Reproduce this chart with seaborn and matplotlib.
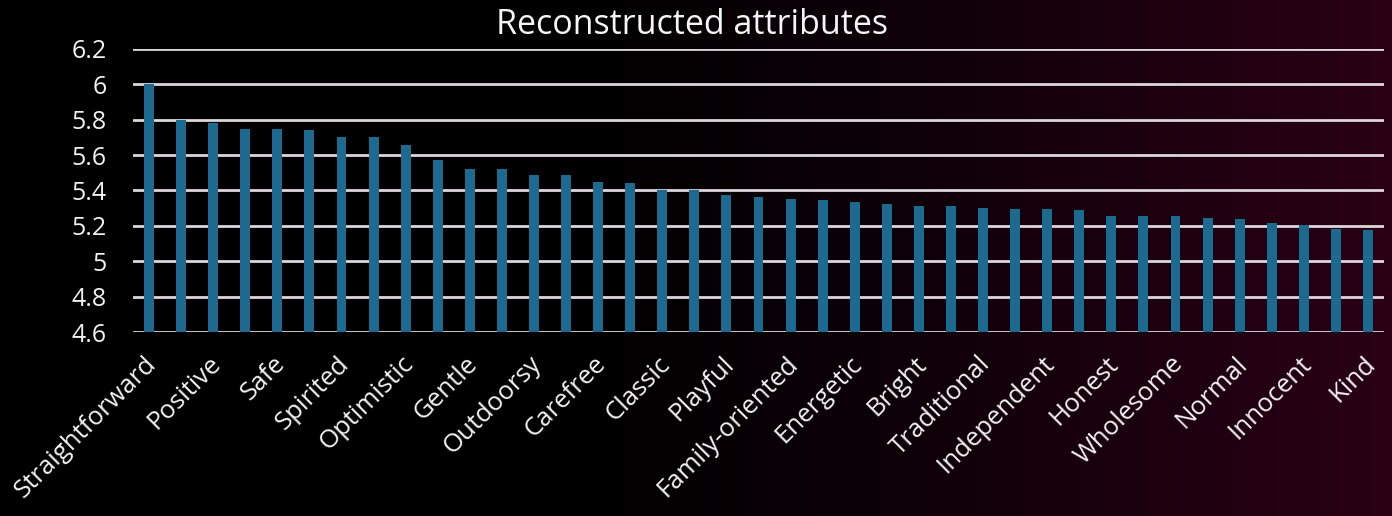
import numpy as np
import pandas as pd
import matplotlib
matplotlib.use("Agg")
import matplotlib.pyplot as plt
import matplotlib.transforms as mtransforms
from matplotlib.colors import LinearSegmentedColormap
import seaborn as sns

# Tick labels shown (every other bar is labelled in the reference)
tick_labels = ["Straightforward", "Positive", "Safe", "Spirited", "Optimistic",
               "Gentle", "Outdoorsy", "Carefree", "Classic", "Playful",
               "Family-oriented", "Energetic", "Bright", "Traditional",
               "Independent", "Honest", "Wholesome", "Normal", "Innocent", "Kind"]

# Values of all 39 bars
values = [6.00, 5.80, 5.78, 5.745, 5.745, 5.74, 5.70, 5.70, 5.66, 5.575,
          5.52, 5.52, 5.486, 5.486, 5.449, 5.443, 5.405, 5.405, 5.377, 5.364,
          5.353, 5.345, 5.337, 5.324, 5.315, 5.315, 5.30, 5.296, 5.296, 5.288,
          5.254, 5.254, 5.254, 5.245, 5.237, 5.217, 5.206, 5.18, 5.175]

y_ticks = [4.6, 4.8, 5.0, 5.2, 5.4, 5.6, 5.8, 6.0, 6.2]
y_tick_labels = ["4.6", "4.8", "5", "5.2", "5.4", "5.6", "5.8", "6", "6.2"]
title = "Reconstructed attributes"

sns.set_theme(style="white")
plt.rcParams["font.family"] = ["Open Sans", "DejaVu Sans"]

W, H, DPI = 13.92, 5.16, 100
fig = plt.figure(figsize=(W, H), dpi=DPI)

# background gradient (black -> dark maroon to the right)
bg = fig.add_axes([0, 0, 1, 1], zorder=-10)
cmap = LinearSegmentedColormap.from_list(
    "bg", [(0.0, "#000000"), (0.45, "#020001"), (0.65, "#0e0008"), (1.0, "#2a0015")])
grad = np.linspace(0, 1, 512).reshape(1, -1)
bg.imshow(grad, aspect="auto", cmap=cmap, extent=[0, 1, 0, 1])
bg.set_axis_off()

ax = fig.add_axes([133 / 1392, 1 - 332 / 516, (1384 - 133) / 1392, (332 - 49) / 516])
ax.patch.set_alpha(0)

df = pd.DataFrame({"idx": list(range(len(values))), "value": values})
sns.barplot(data=df, x="idx", y="value", color="#1c6a90", saturation=1,
            width=0.31, linewidth=0, edgecolor="none", ax=ax, zorder=3)

ax.set_ylim(4.6, 6.2)
ax.set_xlim(-0.5, len(values) - 0.5)
ax.set_yticks(y_ticks)
ax.set_yticklabels(y_tick_labels, fontsize=18, color="#f2f2f2")
ax.set_xticks(list(range(0, len(values), 2)))
ax.set_xticklabels(tick_labels, rotation=45, ha="right", rotation_mode="anchor",
                   fontsize=18.5, color="#f2f2f2")
ax.tick_params(axis="x", length=0, pad=14)
ax.tick_params(axis="y", length=0, pad=19)
offset = mtransforms.ScaledTranslation(-5 / DPI, 0, fig.dpi_scale_trans)
for lbl in ax.get_xticklabels():
    lbl.set_transform(lbl.get_transform() + offset)
ax.set_xlabel("")
ax.set_ylabel("")
for s in ax.spines.values():
    s.set_visible(False)
ax.yaxis.grid(True, color="#dcd6da", linewidth=2, zorder=0)
ax.set_axisbelow(True)

fig.text(692 / 1392, 1 - 25 / 516, title, ha="center", va="center",
         fontsize=24.5, color="#f5f5f5")

fig.savefig("out.png", dpi=DPI)
